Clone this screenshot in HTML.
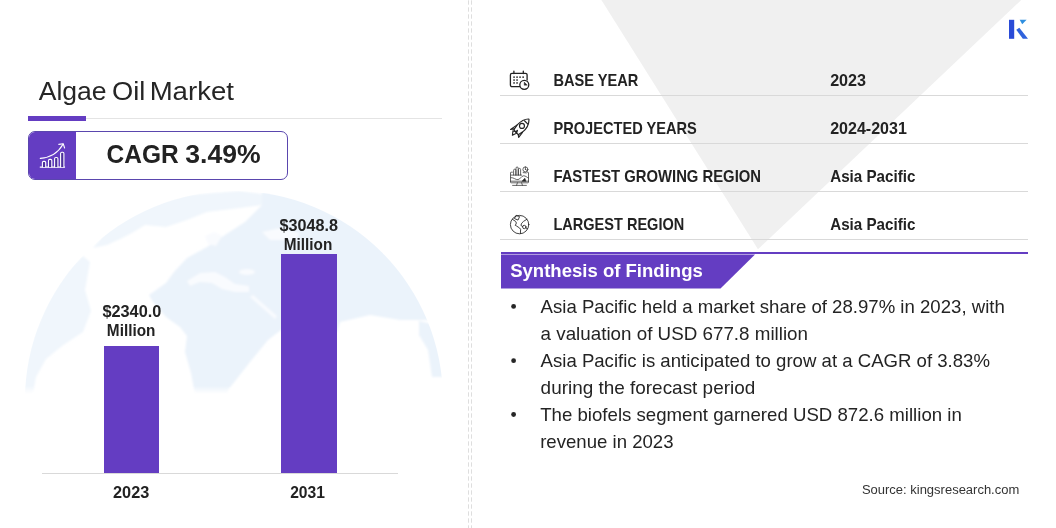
<!DOCTYPE html>
<html lang="en"><head><meta charset="utf-8"><title>Algae Oil Market</title>
<style>
html,body{margin:0;padding:0;background:#fff;}
body{width:1056px;height:528px;position:relative;overflow:hidden;font-family:"Liberation Sans", Arial, sans-serif;}
.t{position:absolute;left:0;margin:0;padding:0;white-space:nowrap;line-height:1;transform-origin:0 0;display:block;}
.abs{position:absolute;}
.g{margin:0;padding:0;list-style:none;font-size:0;line-height:0;}
</style></head><body>
<!-- faint globe backdrop -->
<svg class="abs" style="left:0;top:0" width="1056" height="528" viewBox="0 0 1056 528">
  <defs>
    <linearGradient id="gfade" x1="0" y1="0" x2="0" y2="1" gradientUnits="objectBoundingBox">
      <stop offset="0" stop-color="#fff"/><stop offset="0.915" stop-color="#fff"/><stop offset="0.951" stop-color="#000"/><stop offset="1" stop-color="#000"/>
    </linearGradient>
    <mask id="gmask" maskUnits="userSpaceOnUse" x="0" y="180" width="470" height="230"><rect x="0" y="180" width="470" height="225" fill="url(#gfade)"/></mask>
    <clipPath id="gclip"><circle cx="234" cy="400" r="209"/></clipPath>
    <filter id="gblur" x="-5%" y="-5%" width="110%" height="110%"><feGaussianBlur stdDeviation="1.2"/></filter>
  </defs>
  <g mask="url(#gmask)"><g clip-path="url(#gclip)"><g fill="#ebf3fb" filter="url(#gblur)">
    <polygon fill="#f0f6fc" points="93,248 107,231 128,214 153,204 187,195 240,191 262,194 262,205 240,208 207,212 187,220 166,227 145,225 132,233 120,239 107,245"/>
    <polygon points="149,295 166,283 174,272 187,258 207,247 228,233 245,222 262,205 262,190 300,195 340,215 380,243 410,274 430,295 445,320 400,320 370,315 340,322 337,332 281,330 268,340 250,362 228,390 226,405 197,405 191,373 185,352 187,336 180,327 166,317 153,302"/>
    <polygon fill="#f0f6fc" points="20,405 25,363 35,332 48,302 58,285 70,268 83,256 90,262 85,290 91,311 83,332 62,346 46,359 36,377 31,405"/>
    <polygon points="419,321 436,325 446,350 447,377 432,377 428,350 419,335"/>
    <g fill="#f9fbfe">
      <polygon points="187,281 200,273 215,272 225,277 235,284 249,286 249,292 235,292 222,289 212,283 200,282 190,286"/>
      <ellipse cx="247" cy="272" rx="8" ry="3"/>
      <polygon points="250,297 253,295 277,316 275,319"/>
      <polygon points="205,236 214,232 222,236 216,246 208,244"/>
      <polygon points="262,232 280,228 300,233 296,240 270,240"/>
    </g>
  </g></g></g>
</svg>
<!-- grey decorative triangle -->
<svg class="abs" style="left:0;top:0" width="1056" height="528" viewBox="0 0 1056 528">
  <polygon points="601.4,0 1021.3,0 758,249.3" fill="#f0f0f0"/>
  <!-- vertical dashed dividers -->
  <line x1="468.5" y1="0" x2="468.5" y2="528" stroke="#dedede" stroke-width="1" stroke-dasharray="4.4 2.6" stroke-dashoffset="-0.3"/>
  <line x1="471.5" y1="0" x2="471.5" y2="528" stroke="#dedede" stroke-width="1" stroke-dasharray="4.4 2.6" stroke-dashoffset="-0.3"/>
</svg>
<!-- title underline -->
<div class="abs" style="left:86px;top:118px;width:356px;height:1px;background:#e4e4e4"></div>
<div class="abs" style="left:28px;top:116px;width:58px;height:5px;background:#643dc2"></div>
<!-- CAGR box -->
<div class="abs" style="left:28px;top:131px;width:258px;height:47px;border:1px solid #5a46ae;border-radius:7px;background:#fff;overflow:hidden">
  <div class="abs" style="left:0;top:0;width:47px;height:47px;background:#643dc2"></div>
</div>
<!-- bars -->
<div class="abs" style="left:104px;top:346px;width:55px;height:127px;background:#643dc2"></div>
<div class="abs" style="left:281px;top:254px;width:56px;height:219px;background:#643dc2"></div>
<div class="abs" style="left:42px;top:473px;width:356px;height:1px;background:#d9d9d9"></div>
<!-- table lines -->
<div class="abs" style="left:500px;top:95px;width:528px;height:1px;background:#d9d9d9"></div>
<div class="abs" style="left:500px;top:143px;width:528px;height:1px;background:#d9d9d9"></div>
<div class="abs" style="left:500px;top:191px;width:528px;height:1px;background:#d9d9d9"></div>
<div class="abs" style="left:500px;top:239px;width:528px;height:1px;background:#d9d9d9"></div>
<!-- synthesis header -->
<div class="abs" style="left:501px;top:252px;width:527px;height:2px;background:#643dc2"></div>
<svg class="abs" style="left:501px;top:254px" width="260" height="36" viewBox="0 0 260 36"><polygon points="0,0.6 254,0.6 219.5,34.5 0,34.5" fill="#643dc2"/></svg>
<!-- icons + logo overlay -->
<svg class="abs" style="left:0;top:0" width="1056" height="528" viewBox="0 0 1056 528" fill="none" stroke-linecap="round" stroke-linejoin="round">
  <!-- CAGR growth icon -->
  <g stroke="#fff" stroke-width="1.1">
    <path d="M40.2 167.1H64.6"/>
    <path d="M42.4 167V162.6a1.2 1.2 0 0 1 1.2-1.2h0.9a1.2 1.2 0 0 1 1.2 1.2V167" fill="#4b2f9a"/>
    <path d="M48.5 167V160.6a1.2 1.2 0 0 1 1.2-1.2h0.9a1.2 1.2 0 0 1 1.2 1.2V167" fill="#4b2f9a"/>
    <path d="M54.6 167V158.7a1.2 1.2 0 0 1 1.2-1.2h0.9a1.2 1.2 0 0 1 1.2 1.2V167" fill="#4b2f9a"/>
    <path d="M60.6 167V153.5a1.2 1.2 0 0 1 1.2-1.2h0.9a1.2 1.2 0 0 1 1.2 1.2V167" fill="#4b2f9a"/>
    <path d="M40.3 158.4C49.5 157.6 58 153 63 144.2"/>
    <path d="M58.8 144.4L63.2 143.7L64.6 148"/>
  </g>
  <!-- calendar icon -->
  <g stroke="#222" stroke-width="1.3">
    <path d="M521 86.7H512a1.6 1.6 0 0 1-1.6-1.6V74.9a1.6 1.6 0 0 1 1.6-1.6h13.5a1.6 1.6 0 0 1 1.6 1.6V80"/>
    <path d="M513.9 71.2V73.6M523.3 71.2V73.6"/>
    <circle cx="524.3" cy="84.8" r="4.5" fill="#fff"/>
    <path d="M524.3 84.9V82.2L527 84.9Z" fill="#222" stroke-width="0.6"/>
  </g>
  <g fill="#222" stroke="none">
    <rect x="513.3" y="76.4" width="1.5" height="1.5"/><rect x="516.3" y="76.4" width="1.5" height="1.5"/><rect x="519.3" y="76.4" width="1.5" height="1.5"/><rect x="522.4" y="76.4" width="1.5" height="1.5"/>
    <rect x="513.3" y="79.3" width="1.5" height="1.5"/><rect x="516.3" y="79.3" width="1.5" height="1.5"/>
    <rect x="513.3" y="82.2" width="1.5" height="1.5"/><rect x="516.3" y="82.2" width="1.5" height="1.5"/>
  </g>
  <!-- rocket icon (traced in 18.87x zoom space) -->
  <g transform="translate(505 114) scale(0.053)" stroke="#222" stroke-width="22">
    <path d="M453 103C453 98 450 95 445 95C385 94 295 138 230 207L165 300L250 390L335 337C400 284 453 195 453 103Z"/>
    <path d="M368 128L432 192"/>
    <circle cx="320" cy="225" r="47"/>
    <path d="M222 212L105 290L178 282"/>
    <path d="M330 345L258 440L250 388"/>
    <path d="M150 320L200 330L235 310M150 320L140 400L215 365L235 310M200 330L215 365"/>
  </g>
  <!-- monitor / analytics icon -->
  <g stroke="#333" stroke-width="0.75">
    <path d="M512.4 172.2H511.1a.6.6 0 0 0-.6.6V182.2a.6.6 0 0 0 .6.6H527.9a.6.6 0 0 0 .6-.6V172.8a.6.6 0 0 0-.6-.6H527.4"/>
    <path d="M510.5 181.2H528.5"/>
    <path d="M517.4 182.8L516.6 185.2M521.6 182.8L522.4 185.2M512.6 185.4H526.4"/>
    <path d="M513.6 175V170.3a1.1 1.1 0 0 1 2.2 0V175M516 175V168.1a1.1 1.1 0 0 1 2.2 0V175M518.4 175V169.5a1.1 1.1 0 0 1 2.2 0V175"/>
    <path d="M511.2 175.1H521.6"/>
    <circle cx="525.4" cy="169.4" r="2.5" fill="#fff"/>
    <path d="M525.4 169.4V166.9M525.4 169.4L527.5 170.8M523.2 172.6L526.4 172.9"/>
    <path d="M511 177.6C514 177.4 515.5 180 518 179.6C520.5 179.2 521 176.2 523.5 175.8C525.5 175.6 527 177.5 528.3 178"/>
    <path d="M522.3 181L524.8 178.3L525.8 181Z" fill="#222"/>
  </g>
  <!-- globe icon -->
  <g stroke="#222" stroke-width="0.85">
    <circle cx="519.6" cy="224.6" r="9.2"/>
    <path d="M516.4 215.4L519.6 216.6L518 220.1L514.8 218.7Z"/>
    <path d="M512.4 219.3L515.6 221.4L516.4 223L515.3 225.4L516.4 225.9L519.6 228L520.6 229.3L520.4 233.6"/>
    <path d="M526.9 219.3L523.5 221.4L521.7 223.2L520.9 225.4L522.6 226.5"/>
    <circle cx="524.3" cy="227" r="1.7"/>
    <path d="M525.8 227.9L527.6 228.9"/>
  </g>
  <!-- K logo -->
  <g stroke="none">
    <rect x="1009" y="19.8" width="5.2" height="19" fill="#2a4bd7"/>
    <polygon points="1019.7,19.8 1026.6,19.8 1022.2,24.2" fill="#2f8fe0"/>
    <polygon points="1016.3,29.8 1019.3,27.7 1028,38.8 1022.8,38.8" fill="#2f62dc"/>
  </g>
  <!-- list bullets -->
  <g fill="#262626" stroke="none"><circle cx="513.6" cy="306.4" r="2.4"/><circle cx="513.6" cy="360.7" r="2.4"/><circle cx="513.6" cy="414.5" r="2.4"/></g>
</svg>

<h1 class="g">
<span class="t" style="top:78px;font-size:26.5px;font-weight:400;color:#262626;transform:translateX(38.70px) scaleX(1.0015);">Algae</span>
<span class="t" style="top:78px;font-size:26.5px;font-weight:400;color:#262626;transform:translateX(112.01px) scaleX(1.0285);">Oil</span>
<span class="t" style="top:78px;font-size:26.5px;font-weight:400;color:#262626;transform:translateX(149.64px) scaleX(1.0409);">Market</span>
</h1>
<div class="g">
<span class="t" style="top:142px;font-size:25.6px;font-weight:700;color:#222;transform:translateX(106.60px) scaleX(0.9568);">CAGR</span>
<span class="t" style="top:142px;font-size:25.6px;font-weight:700;color:#222;transform:translateX(185.29px) scaleX(1.0390);">3.49%</span>
</div>
<div class="g">
<span class="t" style="top:303px;font-size:17px;font-weight:700;color:#222;transform:translateX(102.39px) scaleX(0.9590);">$2340.0</span>
<span class="t" style="top:322px;font-size:17px;font-weight:700;color:#222;transform:translateX(106.87px) scaleX(0.9025);">Million</span>
<span class="t" style="top:484px;font-size:17px;font-weight:700;color:#222;transform:translateX(113.04px) scaleX(0.9584);">2023</span>
<span class="t" style="top:217px;font-size:17px;font-weight:700;color:#222;transform:translateX(279.59px) scaleX(0.9505);">$3048.8</span>
<span class="t" style="top:236px;font-size:17px;font-weight:700;color:#222;transform:translateX(283.77px) scaleX(0.9025);">Million</span>
<span class="t" style="top:484px;font-size:17px;font-weight:700;color:#222;transform:translateX(290.16px) scaleX(0.9193);">2031</span>
</div>
<dl class="g">
<dt class="t" style="top:72px;font-size:16.2px;font-weight:700;color:#222;transform:translateX(553.42px) scaleX(0.9014);">BASE YEAR</dt>
<dd class="t" style="top:72px;font-size:16.2px;font-weight:700;color:#222;transform:translateX(830.14px) scaleX(0.9980);">2023</dd>
<dt class="t" style="top:120px;font-size:16.2px;font-weight:700;color:#222;transform:translateX(553.42px) scaleX(0.9023);">PROJECTED YEARS</dt>
<dd class="t" style="top:120px;font-size:16.2px;font-weight:700;color:#222;transform:translateX(830.14px) scaleX(0.9907);">2024-2031</dd>
<dt class="t" style="top:168px;font-size:16.2px;font-weight:700;color:#222;transform:translateX(553.41px) scaleX(0.9160);">FASTEST GROWING REGION</dt>
<dd class="t" style="top:168px;font-size:16.2px;font-weight:700;color:#222;transform:translateX(830.22px) scaleX(0.9376);">Asia Pacific</dd>
<dt class="t" style="top:216px;font-size:16.2px;font-weight:700;color:#222;transform:translateX(553.43px) scaleX(0.8977);">LARGEST REGION</dt>
<dd class="t" style="top:216px;font-size:16.2px;font-weight:700;color:#222;transform:translateX(830.22px) scaleX(0.9376);">Asia Pacific</dd>
</dl>
<h2 class="t" style="top:261px;font-size:19.2px;font-weight:700;color:#ffffff;transform:translateX(510.17px) scaleX(0.9661);">Synthesis of Findings</h2>
<ul class="g">
<li class="g"><span class="t" style="top:297px;font-size:19.0px;font-weight:400;color:#242424;transform:translateX(540.56px) scaleX(0.9790);">Asia Pacific held a market share of 28.97% in 2023, with</span> <span class="t" style="top:324px;font-size:19.0px;font-weight:400;color:#242424;transform:translateX(540.60px) scaleX(0.9891);">a valuation of USD 677.8 million</span></li>
<li class="g"><span class="t" style="top:351px;font-size:19.0px;font-weight:400;color:#242424;transform:translateX(540.56px) scaleX(0.9782);">Asia Pacific is anticipated to grow at a CAGR of 3.83%</span> <span class="t" style="top:378px;font-size:19.0px;font-weight:400;color:#242424;transform:translateX(540.61px) scaleX(0.9960);">during the forecast period</span></li>
<li class="g"><span class="t" style="top:405px;font-size:19.0px;font-weight:400;color:#242424;transform:translateX(540.18px) scaleX(0.9809);">The biofels segment garnered USD 872.6 million in</span> <span class="t" style="top:432px;font-size:19.0px;font-weight:400;color:#242424;transform:translateX(540.17px) scaleX(0.9785);">revenue in 2023</span></li>
</ul>
<p class="t" style="top:484px;font-size:12.5px;font-weight:400;color:#333;transform:translateX(861.91px) scaleX(1.0389);">Source: kingsresearch.com</p>
</body></html>
